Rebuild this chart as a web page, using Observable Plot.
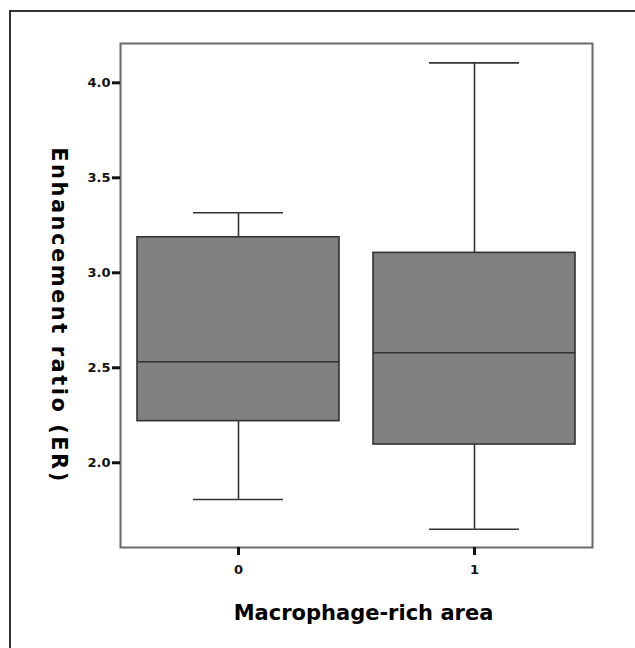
<!DOCTYPE html>
<html>
<head>
<meta charset="utf-8">
<script src="https://cdn.jsdelivr.net/npm/d3@7"></script>
<script src="https://cdn.jsdelivr.net/npm/@observablehq/plot@0.6"></script>
<style>
  html, body { margin: 0; padding: 0; background: #fff; }
  #wrap { position: relative; width: 635px; height: 648px; overflow: hidden; }
  #outer { position: absolute; left: 9px; top: 10px; width: 700px; height: 700px;
           border-left: 2px solid #333; border-top: 2px solid #333; pointer-events: none; }
  #chart { position: absolute; left: 0; top: 0; }
</style>
</head>
<body>
<div id="wrap"><div id="chart"></div><div id="outer"></div></div>
<script>
const groups = ["0", "1"];
const whiskerLow = [1.807, 1.65];
const q1 = [2.219, 2.096];
const median = [2.532, 2.579];
const q3 = [3.187, 3.105];
const whiskerHigh = [3.316, 4.105];
const yTicks = [2.0, 2.5, 3.0, 3.5, 4.0];
const xTitle = "Macrophage-rich area";
const yTitle = "Enhancement ratio (ER)";

const data = groups.map((g, i) => ({
  g, lo: whiskerLow[i], q1: q1[i], med: median[i], q3: q3[i], hi: whiskerHigh[i]
}));

const font = "'DejaVu Sans', sans-serif";
const dark = "#333";

const chart = Plot.plot({
  width: 635,
  height: 648,
  marginLeft: 120,
  marginRight: 43,
  marginTop: 43,
  marginBottom: 101,
  style: { fontFamily: font, background: "transparent" },
  x: { type: "band", domain: groups, padding: 0 },
  y: { domain: [1.554, 4.207] },
  marks: [
    Plot.ruleX(data, { x: "g", y1: "lo", y2: "q1", stroke: dark, strokeWidth: 1.6 }),
    Plot.ruleX(data, { x: "g", y1: "q3", y2: "hi", stroke: dark, strokeWidth: 1.6 }),
    Plot.tickY(data, { x: "g", y: "lo", stroke: dark, strokeWidth: 1.6, insetLeft: 73, insetRight: 73 }),
    Plot.tickY(data, { x: "g", y: "hi", stroke: dark, strokeWidth: 1.6, insetLeft: 73, insetRight: 73 }),
    Plot.barY(data, { x: "g", y1: "q1", y2: "q3", fill: "#808080", stroke: dark, strokeWidth: 1.6, insetLeft: 17, insetRight: 17 }),
    Plot.tickY(data, { x: "g", y: "med", stroke: dark, strokeWidth: 1.6, insetLeft: 17, insetRight: 17 }),
    Plot.frame({ stroke: "#6a6a6a", strokeWidth: 2 }),
    Plot.axisY(yTicks, { tickSize: 8, tickPadding: 2, strokeWidth: 3, stroke: "#111", strokeOpacity: 1,
      tickFormat: d3.format(".1f"), fontSize: 13, fontWeight: "bold", fill: "#111", label: null }),
    Plot.axisX(groups, { tickSize: 8, tickPadding: 9, strokeWidth: 3, stroke: "#111", strokeOpacity: 1,
      fontSize: 13, fontWeight: "bold", fill: "#111", label: null }),
    Plot.text([xTitle], { text: d => d, frameAnchor: "bottom", textAnchor: "middle", dy: 72, dx: 7,
      fontSize: 21, fontWeight: 900, fill: "#000", fontFamily: font }),
    Plot.text([yTitle], { text: d => d, frameAnchor: "left", textAnchor: "middle", rotate: 90, dx: -62, dy: 20,
      fontSize: 21, fontWeight: 900, fill: "#000", fontFamily: font })
  ]
});
d3.select(chart).selectAll("text").filter(function () { return this.textContent === yTitle; })
  .style("letter-spacing", "2.5px");
d3.select(chart).selectAll('g[aria-label="y-axis tick"], g[aria-label="x-axis tick"]')
  .attr("stroke-width", 3).selectAll("path").attr("stroke-width", 3);
document.getElementById("chart").appendChild(chart);
</script>
</body>
</html>
